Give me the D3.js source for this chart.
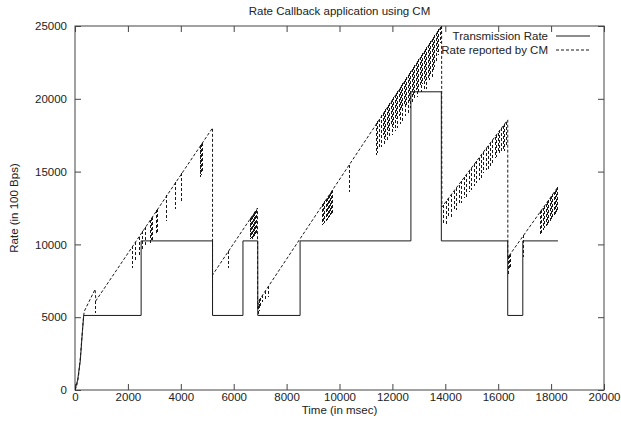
<!DOCTYPE html>
<html>
<head>
<meta charset="utf-8">
<script src="https://cdn.jsdelivr.net/npm/d3@7/dist/d3.min.js"></script>
<style>
  body { margin: 0; background: #fff; }
  text { font-family: "Liberation Sans", Arial, Helvetica, sans-serif; fill: #222; }
</style>
</head>
<body>
<div id="chart"></div>
<script>
// Transmission Rate (solid): vertices of the step line
const txTime = [0, 100, 200, 280, 330, 2500, 2500, 5200, 5200, 6350, 6350, 6910, 6910, 8510, 8510,
  12700, 12700, 13850, 13850, 16360, 16360, 16930, 16930, 18260];
const txRate = [0, 700, 2000, 4000, 5120, 5120, 10240, 10240, 5120, 5120, 10240, 10240, 5120, 5120, 10240,
  10240, 20480, 20480, 10240, 10240, 5120, 5120, 10240, 10240];

// Rate reported by CM (dashed): ramps and the drops between them
const cmTime = [0, 60, 130, 200, 260, 320, 350, 760, 790, 5200, 5200, 6900, 6905, 6940, 13860, 13870, 16360, 16365, 18260];
const cmRate = [0, 250, 900, 2200, 3600, 5000, 5400, 6920, 6130, 18000, 7900, 12500, 5600, 6100, 25000, 12570, 18550, 9100, 13950];

// Short dips of the CM rate: time, top, bottom
const dipTime = [790, 2190, 2300, 2420, 2570, 2680, 2860, 2900, 2940, 3100, 3130, 3478, 3818, 4045, 4730, 4760, 4790, 4810,
  5210, 5820, 6620, 6650, 6680, 6710, 6740, 6770, 6800, 6830, 6860,
  6920, 6960, 6990, 7020, 7095, 7195, 7310,
  9370, 9410, 9450, 9490, 9530, 9570, 9610, 9650, 9690, 9720, 10360,
  11400, 11450, 11500, 11600, 11650, 11700, 11750, 11800, 11850, 11900, 11950, 12000, 12050, 12100, 12150, 12200,
  12250, 12300, 12350, 12400, 12450, 12500, 12550, 12600, 12650, 12700,
  12750, 12800, 12850, 12900, 12950, 13000, 13050, 13100, 13150, 13200, 13250, 13300, 13350, 13400, 13450, 13500,
  13550, 13600, 13650, 13700, 13750, 13800, 13850,
  13925, 14050, 14130, 14240, 14330, 14430, 14520, 14620, 14720, 14810, 14900, 15000, 15100, 15190, 15280, 15370,
  15460, 15560, 15620, 15690, 15780, 15880, 15940, 16000, 16060, 16130, 16200, 16250, 16300,
  16400, 16440, 16470, 16970, 17615, 17650, 17700, 17760, 17810, 17860, 17910, 17960, 18010, 18060, 18110, 18160, 18210, 18250];
const dipHigh = [6130, 9900, 10190, 10510, 10920, 11210, 11700, 11810, 11910, 12340, 12420, 13360, 14280, 14890, 16730, 16810, 16890, 16940,
  7930, 9570, 11730, 11820, 11900, 11980, 12060, 12140, 12220, 12300, 12380,
  5800, 6150, 6240, 6320, 6530, 6800, 7110,
  12760, 12870, 12980, 13090, 13200, 13310, 13420, 13530, 13640, 13720, 15480,
  18330, 18470, 18600, 18880, 19010, 19150, 19290, 19430, 19560, 19700, 19840, 19970, 20110, 20250, 20390, 20520,
  20660, 20800, 20930, 21070, 21210, 21350, 21480, 21620, 21760, 21890,
  22030, 22170, 22310, 22440, 22580, 22720, 22850, 22990, 23130, 23260, 23400, 23540, 23680, 23810, 23950, 24090,
  24220, 24360, 24500, 24630, 24770, 24910, 25000,
  12680, 12980, 13170, 13440, 13650, 13900, 14110, 14350, 14600, 14810, 15030, 15270, 15510, 15730, 15950, 16160,
  16380, 16620, 16770, 16930, 17150, 17390, 17540, 17680, 17830, 18000, 18160, 18280, 18400,
  9180, 9280, 9360, 10640, 12290, 12380, 12510, 12670, 12800, 12920, 13050, 13180, 13310, 13440, 13570, 13690, 13820, 13920];
const dipLow = [5290, 8400, 8900, 9300, 9700, 9950, 10100, 10300, 10150, 10720, 10800, 11610, 12430, 12920, 14600, 14700, 14800, 14950,
  6700, 8380, 10400, 10350, 10450, 10400, 10500, 10450, 10550, 10600, 10700,
  5050, 5450, 5550, 5650, 6070, 6180, 6410,
  11340, 11400, 11500, 11600, 11700, 11800, 11900, 12000, 12100, 12160, 13600,
  16150, 16300, 16600, 16700, 17500, 16900, 17200, 17000, 17800, 17300, 18200, 17500, 18000, 17800, 18600, 18000,
  18800, 18300, 19200, 18500, 19500, 18800, 19600, 19000, 19800, 19400,
  19800, 20200, 19900, 20600, 20100, 20400, 20800, 20500, 21000, 20600, 21200, 20700, 21300, 21300, 21600, 21500,
  21900, 22200, 22600, 23200, 23000, 23800, 24300,
  11450, 11340, 11800, 11900, 12300, 12370, 12700, 12830, 13200, 13280, 13600, 13740, 14000, 14200, 14400, 14540,
  14900, 15110, 15200, 15340, 15600, 15920, 16000, 16260, 16300, 16280, 16500, 16400, 16800,
  8000, 8300, 8400, 9140, 10650, 10800, 11000, 11100, 11250, 11350, 11500, 11600, 11750, 11850, 12000, 12100, 12250, 12300];

const xTicks = [0, 2000, 4000, 6000, 8000, 10000, 12000, 14000, 16000, 18000, 20000];
const yTicks = [0, 5000, 10000, 15000, 20000, 25000];
const seriesNames = ["Transmission Rate", "Rate reported by CM"];

(function () {
  const margin = { top: 26, right: 17, bottom: 31, left: 75 };
  const width = 621 - margin.left - margin.right;
  const height = 421 - margin.top - margin.bottom;
  const dash = "3,2";
  const ink = "#1a1a1a";

  const svg = d3.select("#chart")
    .append("svg")
    .attr("width", width + margin.left + margin.right)
    .attr("height", height + margin.top + margin.bottom);

  const g = svg.append("g").attr("transform", `translate(${margin.left},${margin.top})`);

  const x = d3.scaleLinear().domain([0, 20000]).range([0, width]);
  const y = d3.scaleLinear().domain([0, 25000]).range([height, 0]);

  svg.append("defs").append("clipPath").attr("id", "plot-clip")
    .append("rect").attr("width", width).attr("height", height);

  // axes, ticks point inward and are mirrored on top/right
  const styleAxis = (sel) => {
    sel.select(".domain").remove();
    sel.selectAll("line").attr("stroke", "#444");
    sel.selectAll("text").attr("font-size", "11.5px").attr("fill", "#222");
  };
  g.append("g").attr("transform", `translate(0,${height})`)
    .call(d3.axisBottom(x).tickValues(xTicks).tickSizeInner(-6).tickSizeOuter(0).tickPadding(3).tickFormat(d3.format("d")))
    .call(styleAxis);
  g.append("g")
    .call(d3.axisLeft(y).tickValues(yTicks).tickSizeInner(-6).tickSizeOuter(0).tickPadding(8).tickFormat(d3.format("d")))
    .call(styleAxis);
  g.append("g")
    .call(d3.axisTop(x).tickValues(xTicks).tickSizeInner(-6).tickSizeOuter(0).tickFormat(""))
    .call(styleAxis);
  g.append("g").attr("transform", `translate(${width},0)`)
    .call(d3.axisRight(y).tickValues(yTicks).tickSizeInner(-6).tickSizeOuter(0).tickFormat(""))
    .call(styleAxis);

  g.append("rect")
    .attr("width", width).attr("height", height)
    .attr("fill", "none").attr("stroke", "#444").attr("stroke-width", 1);

  const plot = g.append("g").attr("clip-path", "url(#plot-clip)");
  const line = d3.line().x((d) => x(d[0])).y((d) => y(d[1]));

  plot.append("path")
    .datum(txTime.map((t, i) => [t, txRate[i]]))
    .attr("d", line)
    .attr("fill", "none").attr("stroke", ink).attr("stroke-width", 1);

  plot.append("path")
    .datum(cmTime.map((t, i) => [t, cmRate[i]]))
    .attr("d", line)
    .attr("fill", "none").attr("stroke", ink).attr("stroke-width", 1)
    .attr("stroke-dasharray", dash);

  plot.selectAll(".dip")
    .data(dipTime.map((t, i) => ({ t, hi: dipHigh[i], lo: dipLow[i] })))
    .join("line")
    .attr("class", "dip")
    .attr("x1", (d) => x(d.t)).attr("x2", (d) => x(d.t))
    .attr("y1", (d) => y(d.hi)).attr("y2", (d) => y(d.lo))
    .attr("stroke", ink).attr("stroke-width", 1)
    .attr("stroke-dasharray", dash)
    .attr("shape-rendering", "crispEdges");

  // legend
  const legend = g.append("g").attr("transform", `translate(${width - 56},10)`);
  seriesNames.forEach((name, i) => {
    const row = legend.append("g").attr("transform", `translate(0,${i * 14})`);
    row.append("text")
      .attr("x", 0).attr("y", 0).attr("dy", "0.35em")
      .attr("text-anchor", "end").attr("font-size", "11.5px")
      .text(name);
    row.append("line")
      .attr("x1", 8).attr("x2", 42).attr("y1", 0).attr("y2", 0)
      .attr("stroke", ink).attr("stroke-width", 1)
      .attr("stroke-dasharray", i === 0 ? null : dash);
  });

  // titles
  svg.append("text")
    .attr("x", margin.left + width / 2).attr("y", 15)
    .attr("text-anchor", "middle").attr("font-size", "11.5px")
    .text("Rate Callback application using CM");
  svg.append("text")
    .attr("x", margin.left + width / 2).attr("y", 414)
    .attr("text-anchor", "middle").attr("font-size", "11.5px")
    .text("Time (in msec)");
  svg.append("text")
    .attr("transform", `translate(18,${margin.top + height / 2}) rotate(-90)`)
    .attr("text-anchor", "middle").attr("font-size", "11.5px")
    .text("Rate (in 100 Bps)");
})();
</script>
</body>
</html>
